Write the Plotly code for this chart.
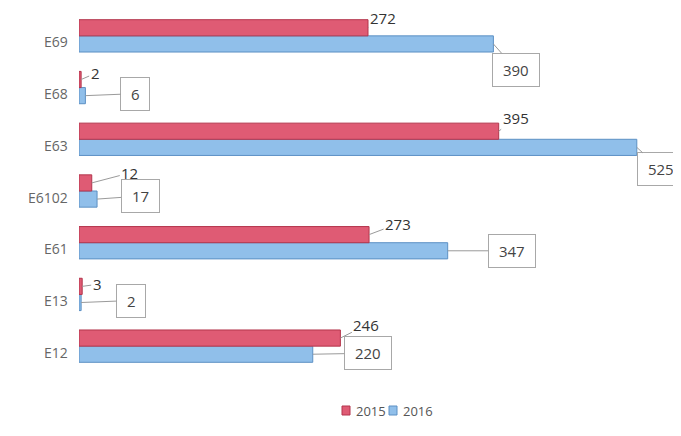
import plotly.graph_objects as go

categories = ["E12", "E13", "E61", "E6102", "E63", "E68", "E69"]
values_2015 = [246, 3, 273, 12, 395, 2, 272]
values_2016 = [220, 2, 347, 17, 525, 6, 390]
series_names = ["2015", "2016"]

# label offsets (pixels) for callouts
off_2015 = [(26, -13), (15, -2), (29, -11), (38, -10), (17, -13), (14, -6), (15, -10)]
off_2016 = [(55, -1), (50, -2), (64, 0), (43, -3), (24, 22), (50, -2), (23, 26)]

RED = "#df5b74"
RED_EDGE = "#b3354c"
BLUE = "#90bfea"
BLUE_EDGE = "#5c90c4"
FONT = "Open Sans, Liberation Sans, sans-serif"

W, H = 673, 428
L, R, T, B = 71, 7, 2, 64
PW, PH = W - L - R, H - T - B


def px_x(px):
    return (px - L) / PW


def px_y(py):
    return (H - B - py) / PH


fig = go.Figure()
fig.add_trace(go.Bar(
    y=categories, x=values_2016, orientation="h", name=series_names[1],
    marker=dict(color=BLUE, line=dict(color=BLUE_EDGE, width=1)),
))
fig.add_trace(go.Bar(
    y=categories, x=values_2015, orientation="h", name=series_names[0],
    marker=dict(color=RED, line=dict(color=RED_EDGE, width=1)),
))

annotations = []
group_w = 0.625
half = group_w / 4
for i, cat in enumerate(categories):
    # category label (slightly below group centre, as in the reference)
    annotations.append(dict(
        x=0, y=cat, xref="paper", yref="y", xanchor="right", yanchor="middle",
        xshift=-9, yshift=-6, showarrow=False, text=cat,
        font=dict(family=FONT, size=14, color="#666666"),
    ))
    ax, ay = off_2015[i]
    annotations.append(dict(
        x=values_2015[i], y=i + half, xref="x", yref="y",
        text=str(values_2015[i]), showarrow=True, arrowhead=0,
        arrowwidth=1, arrowcolor="#9a9a9a", ax=ax, ay=ay,
        font=dict(family=FONT, size=15, color="#333333"),
        standoff=0,
    ))
    ax, ay = off_2016[i]
    annotations.append(dict(
        x=values_2016[i], y=i - half, xref="x", yref="y",
        text="&nbsp;" + str(values_2016[i]) + "&nbsp;", showarrow=True, arrowhead=0,
        arrowwidth=1, arrowcolor="#9a9a9a", ax=ax, ay=ay,
        bordercolor="#a8a8a8", borderwidth=1, borderpad=6, bgcolor="white",
        font=dict(family=FONT, size=15, color="#444444"),
        standoff=0,
    ))

# custom compact legend
shapes = []
legend_items = [(series_names[0], RED, RED_EDGE, 334), (series_names[1], BLUE, BLUE_EDGE, 381)]
for name, col, edge, x0 in legend_items:
    shapes.append(dict(
        type="rect", xref="paper", yref="paper",
        x0=px_x(x0), x1=px_x(x0 + 8), y0=px_y(407), y1=px_y(398),
        fillcolor=col, line=dict(color=edge, width=1),
    ))
    annotations.append(dict(
        x=px_x(x0 + 12), y=px_y(402.5), xref="paper", yref="paper",
        xanchor="left", yanchor="middle", showarrow=False, text=name,
        font=dict(family=FONT, size=13, color="#555555"),
    ))

fig.update_layout(
    width=W, height=H,
    margin=dict(l=L, r=R, t=T, b=B),
    paper_bgcolor="white", plot_bgcolor="white",
    barmode="group", bargap=0.375, bargroupgap=0,
    xaxis=dict(range=[0, 560], visible=False, automargin=False),
    yaxis=dict(
        type="category", categoryorder="array", categoryarray=categories,
        range=[-0.5, 6.5], showline=False, showgrid=False, ticks="",
        showticklabels=False, automargin=False,
    ),
    annotations=annotations,
    shapes=shapes,
    showlegend=False,
)

fig.write_html("out.html")
